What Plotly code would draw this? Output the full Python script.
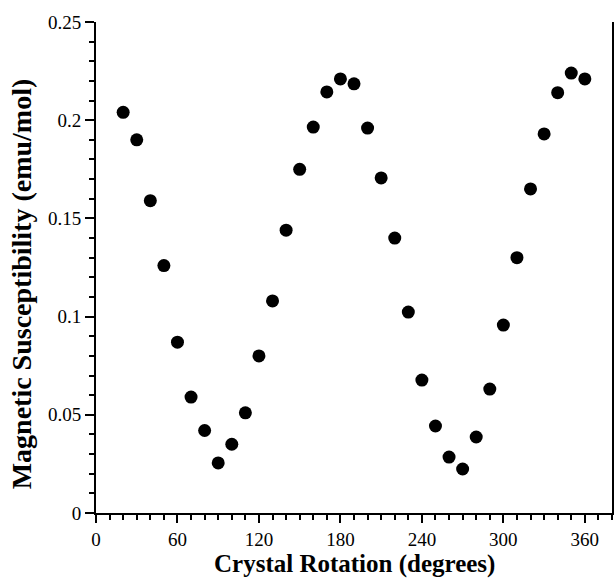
import plotly.graph_objects as go

rotation_deg = [20, 30, 40, 50, 60, 70, 80, 90, 100, 110, 120, 130, 140, 150, 160, 170, 180,
                190, 200, 210, 220, 230, 240, 250, 260, 270, 280, 290, 300, 310, 320, 330,
                340, 350, 360]
susceptibility = [0.204, 0.190, 0.159, 0.126, 0.087, 0.059, 0.042, 0.0255, 0.035, 0.051,
                  0.080, 0.108, 0.144, 0.175, 0.1965, 0.2144, 0.221, 0.2185, 0.196, 0.1706,
                  0.140, 0.1023, 0.0677, 0.0443, 0.0285, 0.0224, 0.0387, 0.0631, 0.0957,
                  0.130, 0.165, 0.193, 0.214, 0.224, 0.221]

x_ticks = [0, 60, 120, 180, 240, 300, 360]
y_ticks = [0, 0.05, 0.1, 0.15, 0.2, 0.25]
y_tick_labels = ["0", "0.05", "0.1", "0.15", "0.2", "0.25"]

FONT = "Liberation Serif, Times New Roman, serif"

fig = go.Figure()
fig.add_trace(go.Scatter(
    x=rotation_deg, y=susceptibility, mode="markers",
    marker=dict(size=13, color="black"),
    showlegend=False, cliponaxis=False,
))

fig.update_layout(
    width=616, height=578,
    margin=dict(l=96, r=2, t=22, b=65),
    paper_bgcolor="white", plot_bgcolor="white",
    font=dict(family=FONT, color="black", size=19),
    xaxis=dict(
        range=[0, 380], tickvals=x_ticks, ticktext=[str(v) for v in x_ticks],
        showgrid=False, zeroline=False, showline=True, linecolor="black", linewidth=2,
        ticks="outside", ticklen=8, tickwidth=2, tickcolor="black",
        minor=dict(dtick=10, tick0=0, ticks="outside", ticklen=5, tickwidth=1.5,
                   tickcolor="black", showgrid=False),
        tickfont=dict(family=FONT, size=19),
    ),
    yaxis=dict(
        range=[0, 0.25], tickvals=y_ticks, ticktext=y_tick_labels,
        showgrid=False, zeroline=False, showline=True, linecolor="black", linewidth=2,
        mirror=True,
        ticks="outside", ticklen=9, tickwidth=2, tickcolor="black",
        minor=dict(dtick=0.01, tick0=0, ticks="outside", ticklen=5, tickwidth=1.5,
                   tickcolor="black", showgrid=False),
        tickfont=dict(family=FONT, size=19),
    ),
    annotations=[
        dict(text="<b>Crystal Rotation (degrees)</b>", xref="paper", yref="paper",
             x=0.5, y=-0.104, xanchor="center", yanchor="middle", showarrow=False,
             font=dict(family=FONT, size=25)),
        dict(text="<b>Magnetic Susceptibility (emu/mol)</b>", xref="paper", yref="paper",
             x=-0.145, y=0.466, xanchor="center", yanchor="middle", textangle=-90,
             showarrow=False, font=dict(family=FONT, size=28)),
    ],
)

fig.write_html("out.html", config={"displayModeBar": False})

# remove default page margin / scrollbars so the figure sits at the window origin
with open("out.html", "r", encoding="utf-8") as f:
    html = f.read()
html = html.replace("<head>", "<head><style>html,body{margin:0;padding:0;overflow:hidden;}</style>", 1)
with open("out.html", "w", encoding="utf-8") as f:
    f.write(html)
